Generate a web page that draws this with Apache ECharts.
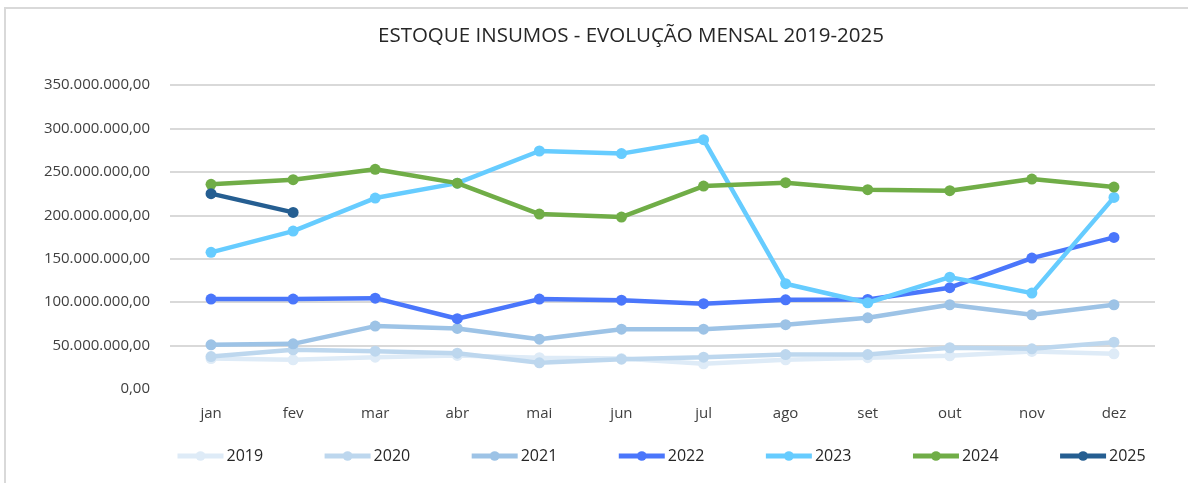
<!DOCTYPE html>
<html>
<head>
<meta charset="utf-8">
<script src="https://cdn.jsdelivr.net/npm/echarts@6/dist/echarts.min.js"></script>
<style>
html,body{margin:0;padding:0;background:#fff;}
#frame{position:absolute;left:4px;top:7px;width:1184px;height:476px;border-top:2px solid #d9d9d9;border-left:2px solid #d9d9d9;box-sizing:border-box;}
#chart{position:absolute;left:0;top:0;width:1188px;height:483px;}
</style>
</head>
<body>
<div id="frame"></div>
<div id="chart"></div>
<script>
const months = ['jan','fev','mar','abr','mai','jun','jul','ago','set','out','nov','dez'];
const years = ['2019','2020','2021','2022','2023','2024','2025'];
const v2019 = [35, 33.6, 36.6, 38.6, 36, 35, 29, 33.6, 36, 38.2, 43.2, 40.5];
const v2020 = [37.4, 45.2, 43.5, 41.2, 30.2, 34.3, 36.6, 39.7, 39.7, 47.5, 46.3, 53.9];
const v2021 = [50.9, 52, 72.4, 69.7, 57.4, 68.9, 68.9, 74, 82, 97, 85.5, 97];
const v2022 = [103.5, 103.5, 104.6, 80.9, 103.5, 102.3, 98.2, 102.7, 103.1, 116.6, 150.7, 174.5];
const v2023 = [157.3, 181.8, 219.8, 237, 274, 271, 287, 121.2, 99.3, 128.8, 110.4, 220.6];
const v2024 = [235.6, 241, 252.9, 237, 201.4, 198, 233.6, 237.5, 229.5, 228.3, 241.7, 232.5];
const v2025 = [224.9, 203.3];
const yTicks = [0, 50, 100, 150, 200, 250, 300, 350]; // millions
const colors = ['#deebf7', '#bdd7ee', '#9dc3e6', '#4a76fb', '#66ccff', '#70ad47', '#255e91'];
const seriesValues = [v2019, v2020, v2021, v2022, v2023, v2024, v2025];

function fmt(m){
  const n = Math.round(m * 1000000);
  const s = n.toString().replace(/\B(?=(\d{3})+(?!\d))/g, '.');
  return s + ',00';
}

const chart = echarts.init(document.getElementById('chart'), null, {renderer:'canvas'});
const font = 'Open Sans, Noto Sans, sans-serif';
chart.setOption({
  animation:false,
  color: colors,
  title:{
    text:'ESTOQUE INSUMOS - EVOLUÇÃO MENSAL 2019-2025',
    left:373, top:21,
    textStyle:{fontFamily:font, fontSize:20.5, fontWeight:'normal', color:'#262626'}
  },
  legend:{
    bottom:14, left:170,
    itemWidth:46, itemHeight:12, itemGap:59,
    lineStyle:{width:5},
    textStyle:{fontFamily:font, fontSize:16, color:'#262626', padding:[0,0,0,-2]},
    data: years
  },
  grid:{left:170, right:33, top:85, bottom:94, containLabel:false},
  xAxis:{
    type:'category', data:months, boundaryGap:true,
    axisLine:{show:false}, axisTick:{show:false},
    axisLabel:{fontFamily:font, fontSize:15, color:'#404040', margin:17}
  },
  yAxis:{
    type:'value', min:0, max:350, interval:50,
    axisLine:{show:false}, axisTick:{show:false},
    splitLine:{show:true, showMinLine:false, lineStyle:{color:'#d9d9d9', width:2}},
    axisLabel:{fontFamily:font, fontSize:15, color:'#404040', margin:20, formatter:(v)=>fmt(v)}
  },
  series: years.map((y,i)=>({
    name:y, type:'line', data:seriesValues[i],
    symbol:'circle', symbolSize:11,
    lineStyle:{width:4.5, color:colors[i]},
    itemStyle:{color:colors[i]},
    z: 2 + i
  }))
});
</script>
</body>
</html>
